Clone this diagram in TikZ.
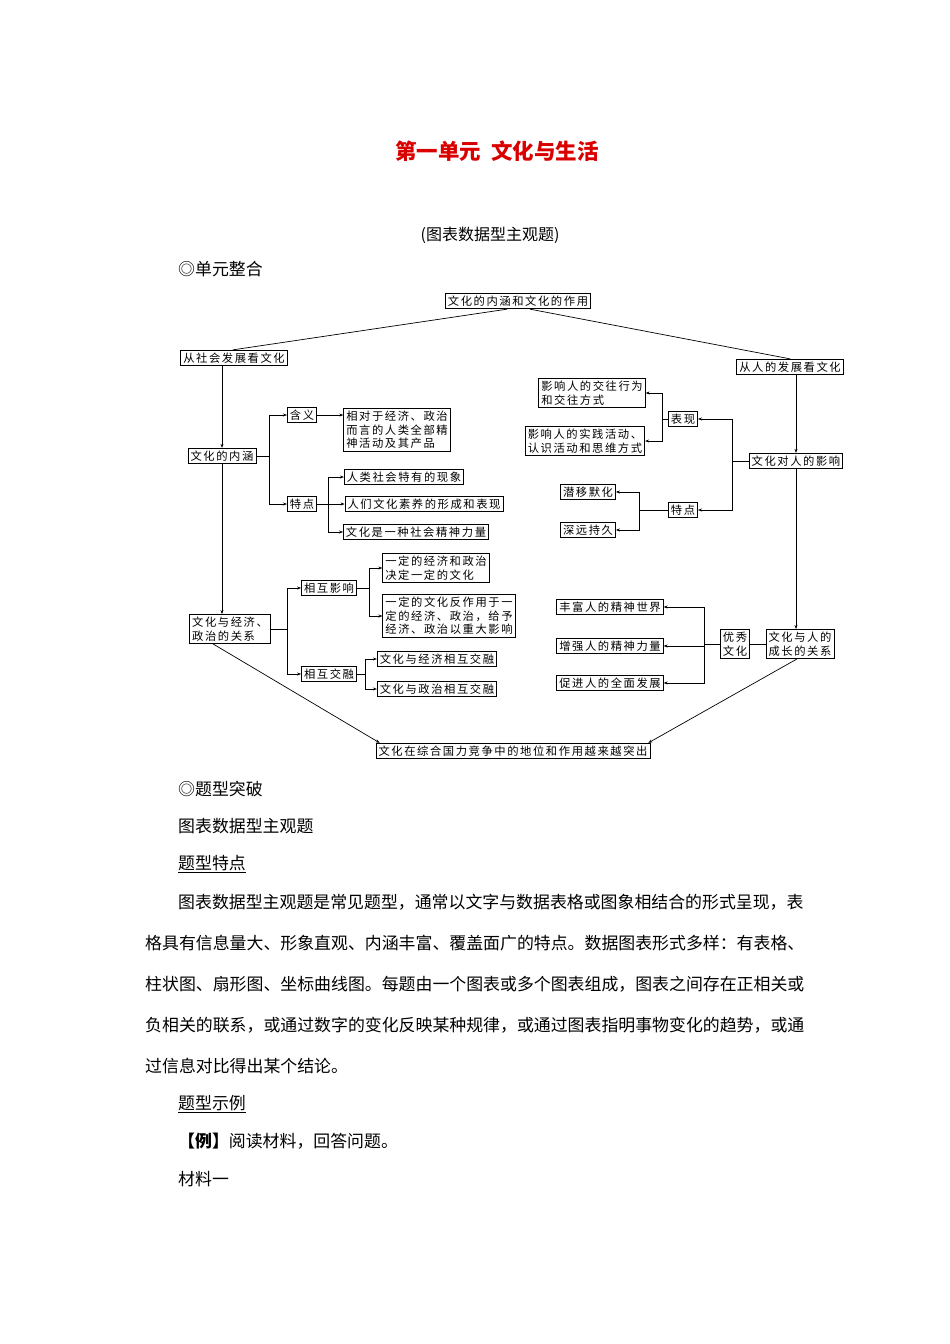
\documentclass[tikz,border=0pt]{standalone}
\usepackage{fontspec}
\setmainfont{Noto Sans CJK SC}
\newfontfamily\dgfont[LetterSpace=14]{Noto Sans CJK SC}
\usetikzlibrary{arrows.meta,calc}
\begin{document}
\begin{tikzpicture}[x=1pt,y=-1pt,
  bx/.style={draw,line width=0.8pt,inner sep=2.5pt,font=\dgfont\fontsize{11.3}{13.5}\selectfont,align=left},
  ln/.style={line width=0.7pt},
  ar/.style={line width=0.7pt,-{Stealth[length=4pt,width=3pt]}},
  tx/.style={anchor=west,inner sep=0pt,font=\fontsize{16.9}{18}\selectfont}]
\useasboundingbox (0,0) rectangle (950,1344);
\node[font=\fontsize{21.5}{24}\bfseries\selectfont,text=red!85!black] (title) at (497,151) {第一单元\ \ 文化与生活};
\node[font=\fontsize{16}{18}\selectfont] (sub) at (490,235) {(图表数据型主观题)};
\node[tx] (t1) at (178,269) {◎单元整合};
% diagram
\node[bx] (top) at (518,301) {文化的内涵和文化的作用};
\node[bx] (soc) at (234,358) {从社会发展看文化};
\node[bx] (hum) at (790,367) {从人的发展看文化};
\node[bx] (nh) at (222,456) {文化的内涵};
\node[bx] (hy) at (302,415) {含义};
\node[bx] (hyt) at (397,430) {相对于经济、政治\\而言的人类全部精\\神活动及其产品};
\node[bx] (td) at (302,504) {特点};
\node[bx] (td1) at (404,477) {人类社会特有的现象};
\node[bx] (td2) at (424,504) {人们文化素养的形成和表现};
\node[bx] (td3) at (416,532) {文化是一种社会精神力量};
\node[bx] (gx) at (230,629) {文化与经济、\\政治的关系};
\node[bx] (yx) at (329,588) {相互影响};
\node[bx] (yx1) at (436,568) {一定的经济和政治\\决定一定的文化};
\node[bx] (yx2) at (449,616) {一定的文化反作用于一\\定的经济、政治，给予\\经济、政治以重大影响};
\node[bx] (jr) at (329,674) {相互交融};
\node[bx] (jr1) at (437,659) {文化与经济相互交融};
\node[bx] (jr2) at (437,689) {文化与政治相互交融};
\node[bx] (bot) at (513,751) {文化在综合国力竞争中的地位和作用越来越突出};
\node[bx] (yxr) at (796,461) {文化对人的影响};
\node[bx] (bx1) at (683,419) {表现};
\node[bx] (bx1a) at (592,393) {影响人的交往行为\\和交往方式};
\node[bx] (bx1b) at (585,441) {影响人的实践活动、\\认识活动和思维方式};
\node[bx] (tdr) at (683,510) {特点};
\node[bx] (tdr1) at (588,492) {潜移默化};
\node[bx] (tdr2) at (588,530) {深远持久};
\node[bx] (cz) at (800,644) {文化与人的\\成长的关系};
\node[bx] (yw) at (735,644) {优秀\\文化};
\node[bx] (r1) at (610,607) {丰富人的精神世界};
\node[bx] (r2) at (610,646) {增强人的精神力量};
\node[bx] (r3) at (610,683) {促进人的全面发展};
% connectors
\draw[ln] ($(top.south)+(-11,0)$) -- ($(soc.north)+(-1,0)$);
\draw[ln] ($(top.south)+(12,0)$) -- (hum.north);
\draw[ar] (soc.south -| nh) -- (nh.north);
\draw[ln] (nh.east) -- ++(13,0) coordinate (b1);
\draw[ar] (b1) |- (hy.west);
\draw[ar] (b1) |- (td.west);
\draw[ar] (hy.east) -- (hy.east -| hyt.west);
\draw[ln] (td.east) -- ++(11,0) coordinate (b2);
\draw[ar] (b2) |- (td1.west);
\draw[ar] (b2) |- (td2.west);
\draw[ar] (b2) |- (td3.west);
\draw[ar] (nh.south) -- (nh.south |- gx.north);
\draw[ln] (gx.east) -- ++(17,0) coordinate (b3);
\draw[ar] (b3) |- (yx.west);
\draw[ar] (b3) |- (jr.west);
\draw[ln] (yx.east) -- ++(12,0) coordinate (b4);
\draw[ar] (b4) |- (yx1.west);
\draw[ar] (b4) |- (yx2.west);
\draw[ln] (jr.east) -- ++(8,0) coordinate (b5);
\draw[ar] (b5) |- (jr1.west);
\draw[ar] (b5) |- (jr2.west);
\draw[ar] ($(gx.south)+(-17,0)$) -- ($(bot.north west)+(4,0)$);
\draw[ar] (hum.south -| yxr) -- (yxr.north);
\draw[ln] (yxr.west) -- ++(-16,0) coordinate (b6);
\draw[ar] (b6) |- (bx1.east);
\draw[ar] (b6) |- (tdr.east);
\draw[ln] (bx1.west) -- ++(-6,0) coordinate (b7);
\draw[ar] (b7) |- (bx1a.east);
\draw[ar] (b7) |- (bx1b.east);
\draw[ln] (tdr.west) -- ++(-29,0) coordinate (b8);
\draw[ar] (b8) |- (tdr1.east);
\draw[ar] (b8) |- (tdr2.east);
\draw[ar] (yxr.south) -- (yxr.south |- cz.north);
\draw[ln] (cz.west) -- (yw.east);
\draw[ln] (yw.west) -- ++(-16,0) coordinate (b9);
\draw[ar] (b9) |- (r1.east);
\draw[ar] (b9) |- (r2.east);
\draw[ar] (b9) |- (r3.east);
\draw[ar] ($(cz.south)+(-3,0)$) -- ($(bot.north east)+(-2,0)$);
% text below
\node[tx] (t2) at (178,789) {◎题型突破};
\node[tx] (t3) at (178,826) {图表数据型主观题};
\node[tx] (t4) at (178,864) {\underline{题型特点}};
\node[tx] (p1) at (178,902) {图表数据型主观题是常见题型，通常以文字与数据表格或图象相结合的形式呈现，表};
\node[tx] (p2) at (145,943) {格具有信息量大、形象直观、内涵丰富、覆盖面广的特点。数据图表形式多样：有表格、};
\node[tx] (p3) at (145,984) {柱状图、扇形图、坐标曲线图。每题由一个图表或多个图表组成，图表之间存在正相关或};
\node[tx] (p4) at (145,1025) {负相关的联系，或通过数字的变化反映某种规律，或通过图表指明事物变化的趋势，或通};
\node[tx] (p5) at (145,1066) {过信息对比得出某个结论。};
\node[tx] (t5) at (178,1104) {\underline{题型示例}};
\node[tx] (t6) at (178,1141) {{\bfseries 【例】}阅读材料，回答问题。};
\node[tx] (t7) at (178,1179) {材料一};
\end{tikzpicture}
\end{document}
